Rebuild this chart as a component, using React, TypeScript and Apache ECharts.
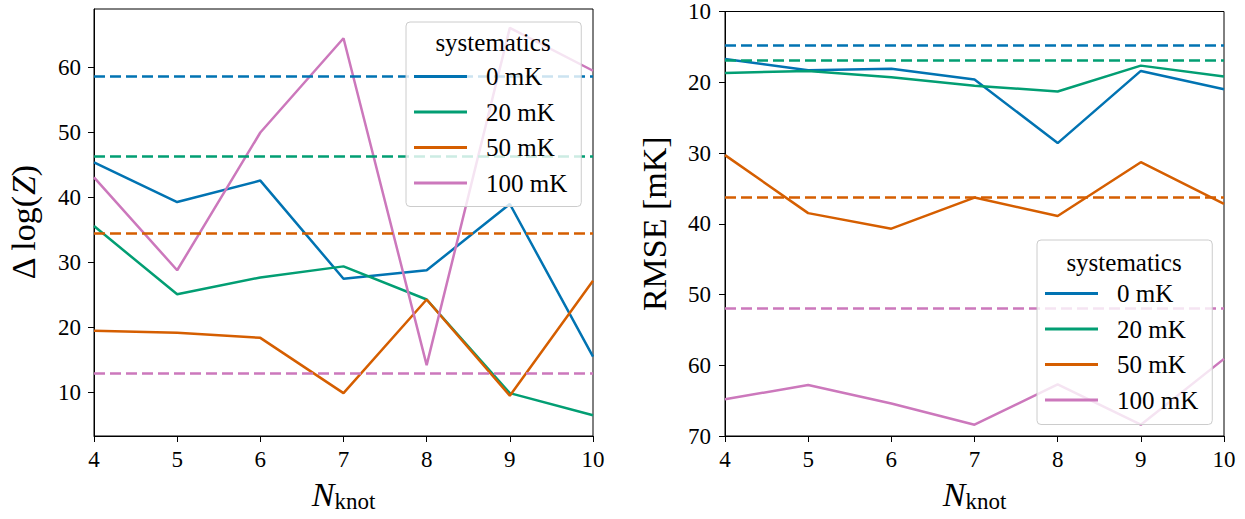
import React, { useEffect, useRef } from "react";
import * as echarts from "echarts";

const knots = [4, 5, 6, 7, 8, 9, 10];
const seriesNames = ["0 mK", "20 mK", "50 mK", "100 mK"];
const colors = ["#0173b2", "#029e73", "#d55e00", "#cc78bc"];

const logZ0 = [45.4, 39.3, 42.6, 27.5, 28.8, 39.0, 15.5];
const logZ20 = [35.6, 25.1, 27.7, 29.4, 24.3, 9.9, 6.5];
const logZ50 = [19.5, 19.2, 18.4, 9.9, 24.3, 9.5, 27.2];
const logZ100 = [43.1, 28.8, 50.0, 64.5, 14.2, 66.1, 59.5];
const logZRef = [58.7, 46.3, 34.5, 13.0];

const rmse0 = [16.7, 18.3, 18.1, 19.6, 28.6, 18.4, 21.0];
const rmse20 = [18.7, 18.4, 19.3, 20.5, 21.3, 17.65, 19.2];
const rmse50 = [30.3, 38.5, 40.7, 36.3, 38.9, 31.3, 37.2];
const rmse100 = [64.8, 62.8, 65.4, 68.4, 62.7, 68.4, 59.1];
const rmseRef = [14.7, 16.9, 36.3, 51.9];

const leftTicks = [10, 20, 30, 40, 50, 60];
const xTicks = [4, 5, 6, 7, 8, 9, 10];

const FONT = "Liberation Serif";

export default function App() {
  const ref = useRef<HTMLDivElement>(null);
  useEffect(() => {
    const chart = echarts.init(ref.current!, null, { renderer: "svg" });
    const leftData = [logZ0, logZ20, logZ50, logZ100];
    const rightData = [rmse0, rmse20, rmse50, rmse100];

    const mkSeries = (arr: number[][], refs: number[], idx: number) =>
      arr.map((vals, i) => ({
        type: "line",
        name: seriesNames[i],
        xAxisIndex: idx,
        yAxisIndex: idx,
        data: knots.map((k, j) => [k, vals[j]]),
        showSymbol: false,
        symbol: "none",
        lineStyle: { color: colors[i], width: 2.5 },
        itemStyle: { color: colors[i] },
        z: 2 + i * 0.01,
        markLine: {
          silent: true,
          symbol: "none",
          label: { show: false },
          lineStyle: { color: colors[i], width: 2.6, type: [11, 5] },
          data: [{ yAxis: refs[i] }],
        },
      }));

    const axisCommonX = (gi: number) => ({
      type: "value",
      gridIndex: gi,
      min: 4,
      max: 10,
      interval: 1,
      splitLine: { show: false },
      axisLine: { show: true, lineStyle: { color: "#000", width: 1 } },
      axisTick: { show: true, length: 6, lineStyle: { color: "#000", width: 1 } },
      axisLabel: {
        color: "#000",
        fontFamily: FONT,
        fontSize: 23,
        margin: 12,
        customValues: xTicks,
      },
      name: "{n|N}{k|knot}",
      nameLocation: "middle",
      nameGap: 40,
      nameTextStyle: {
        rich: {
          n: { fontFamily: FONT, fontSize: 34, fontStyle: "italic", color: "#000" },
          k: { fontFamily: FONT, fontSize: 23, color: "#000", padding: [14, 0, 0, 0] },
        },
      },
    });

    const legendCommon = (left: number, top: number, pad: number[]) => ({
      orient: "vertical",
      left,
      top,
      data: seriesNames,
      icon: "rect",
      itemWidth: 53,
      itemHeight: 3,
      itemGap: 10.5,
      selectedMode: false,
      padding: pad,
      backgroundColor: "rgba(255,255,255,0.8)",
      borderColor: "#cccccc",
      borderWidth: 1,
      borderRadius: 4,
      z: 10,
      textStyle: {
        fontFamily: FONT,
        fontSize: 25,
        lineHeight: 24,
        color: "#000",
        padding: [0, 0, 0, 14],
      },
    });

    const option = {
      animation: false,
      textStyle: { fontFamily: FONT },
      grid: [
        { left: 94, top: 9, width: 499, height: 427, show: true, borderColor: "#000", borderWidth: 1, backgroundColor: "transparent" },
        { left: 725, top: 9, width: 499, height: 427, show: true, borderColor: "#000", borderWidth: 1, backgroundColor: "transparent" },
      ],
      xAxis: [axisCommonX(0), axisCommonX(1)],
      yAxis: [
        {
          type: "value",
          gridIndex: 0,
          min: 3.3,
          max: 69.0,
          splitLine: { show: false },
          axisLine: { show: true, lineStyle: { color: "#000", width: 1 } },
          axisTick: { show: true, length: 6, lineStyle: { color: "#000", width: 1 }, customValues: leftTicks },
          axisLabel: { color: "#000", fontFamily: FONT, fontSize: 23, margin: 13, customValues: leftTicks },
          name: "{a|Δ log(}{z|Z}{a|)}",
          nameLocation: "middle",
          nameRotate: 90,
          nameGap: 54,
          nameTextStyle: {
            rich: {
              a: { fontFamily: FONT, fontSize: 34, color: "#000" },
              z: { fontFamily: FONT, fontSize: 34, fontStyle: "italic", color: "#000" },
            },
          },
        },
        {
          type: "value",
          gridIndex: 1,
          min: 10,
          max: 70,
          interval: 10,
          inverse: true,
          splitLine: { show: false },
          axisLine: { show: true, lineStyle: { color: "#000", width: 1 } },
          axisTick: { show: true, length: 6, lineStyle: { color: "#000", width: 1 } },
          axisLabel: { color: "#000", fontFamily: FONT, fontSize: 23, margin: 14 },
          name: "RMSE [mK]",
          nameLocation: "middle",
          nameRotate: 90,
          nameGap: 54,
          nameTextStyle: { fontFamily: FONT, fontSize: 34, color: "#000" },
        },
      ],
      legend: [legendCommon(406, 22, [42, 14, 11, 8]), legendCommon(1037, 240, [41, 14, 12, 8])],
      graphic: [
        {
          type: "text",
          x: 493,
          y: 42,
          z: 100,
          style: { text: "systematics", fontFamily: FONT, fontSize: 25, fill: "#000", align: "center", verticalAlign: "middle" },
        },
        {
          type: "text",
          x: 1124,
          y: 262,
          z: 100,
          style: { text: "systematics", fontFamily: FONT, fontSize: 25, fill: "#000", align: "center", verticalAlign: "middle" },
        },
      ],
      series: [...mkSeries(leftData, logZRef, 0), ...mkSeries(rightData, rmseRef, 1)],
    };
    chart.setOption(option as any);
    return () => chart.dispose();
  }, []);
  return (
    <div
      ref={ref}
      style={{ position: "absolute", left: 0, top: 0, width: 1245, height: 519, background: "#fff" }}
    />
  );
}
